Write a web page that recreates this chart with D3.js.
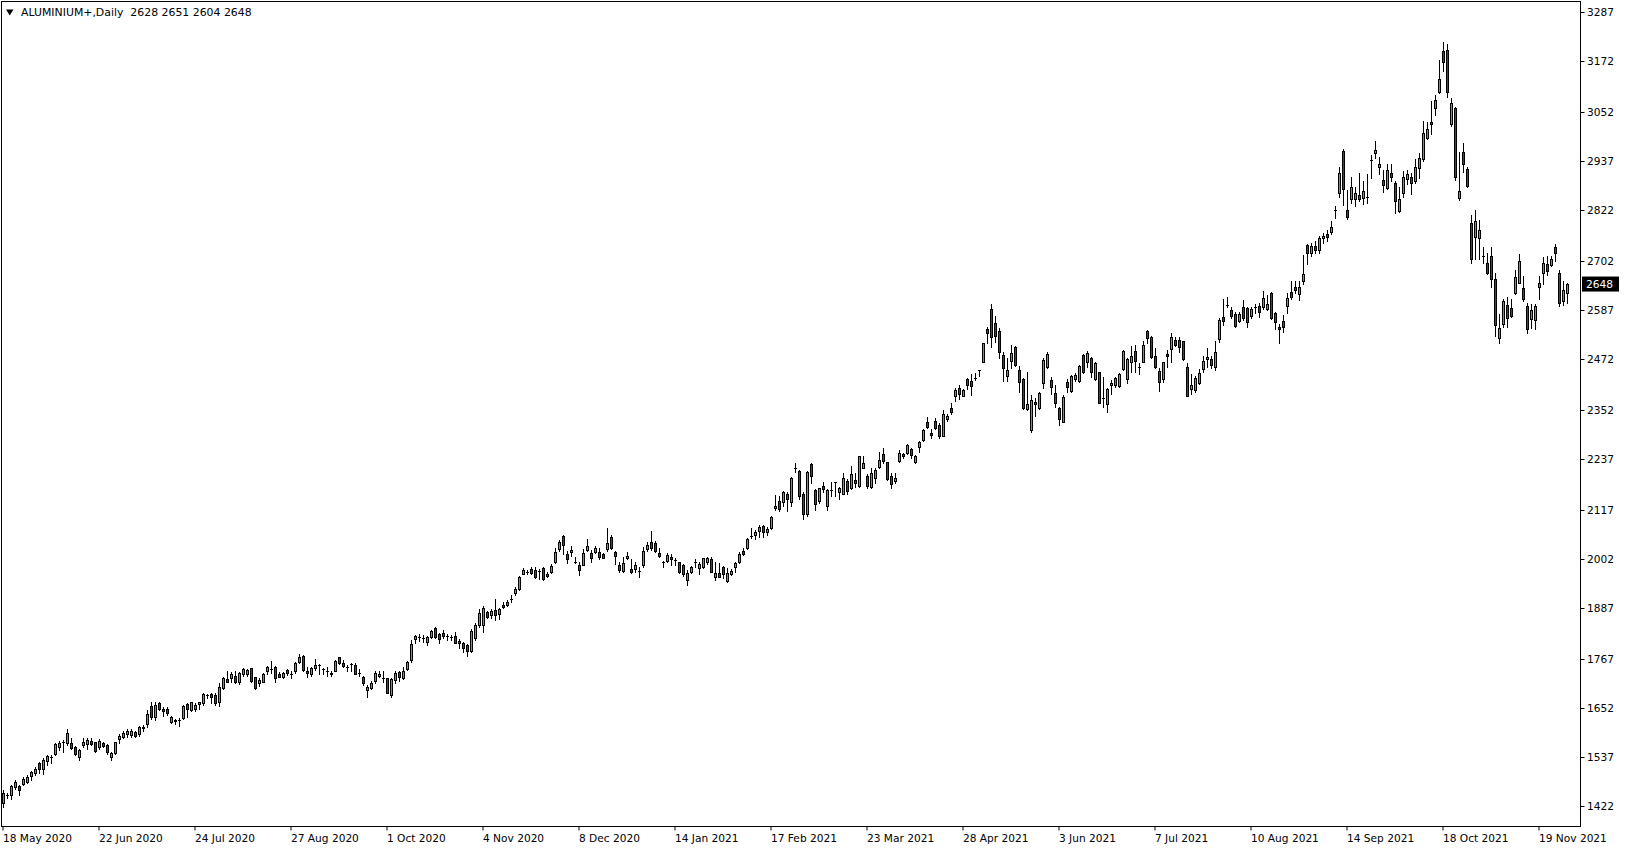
<!DOCTYPE html>
<html><head><meta charset="utf-8">
<script src="https://cdn.jsdelivr.net/npm/d3@7/dist/d3.min.js"></script>
<style>html,body{margin:0;padding:0;background:#fff;overflow:hidden}</style>
</head><body>
<script>
const symbolTitle = "ALUMINIUM+,Daily  2628 2651 2604 2648";
const lastPrice = 2648;
const yTicks = [3287,3172,3052,2937,2822,2702,2587,2472,2352,2237,2117,2002,1887,1767,1652,1537,1422];
const xTickLabels = ["18 May 2020","22 Jun 2020","24 Jul 2020","27 Aug 2020","1 Oct 2020","4 Nov 2020","8 Dec 2020","14 Jan 2021","17 Feb 2021","23 Mar 2021","28 Apr 2021","3 Jun 2021","7 Jul 2021","10 Aug 2021","14 Sep 2021","18 Oct 2021","19 Nov 2021"];
const xTickBars = [0,24,48,72,96,120,144,168,192,216,240,264,288,312,336,360,384];

const opens = [1428,1448,1449,1467,1468,1474,1478,1492,1500,1524,1510,1528,1536,1543,1560,1572,1571,1569,1561,1536,1565,1567,1574,1572,1560,1570,1565,1536,1546,1579,1583,1591,1589,1596,1590,1607,1614,1657,1632,1663,1650,1649,1619,1623,1623,1628,1661,1648,1651,1661,1663,1683,1684,1683,1666,1698,1720,1722,1727,1713,1731,1731,1745,1724,1712,1714,1740,1744,1748,1732,1724,1742,1733,1738,1761,1774,1739,1731,1745,1753,1743,1738,1731,1740,1771,1757,1748,1755,1753,1734,1724,1695,1700,1716,1727,1722,1722,1683,1718,1736,1722,1744,1765,1814,1820,1817,1808,1818,1840,1825,1829,1822,1820,1821,1810,1804,1799,1786,1816,1847,1846,1878,1871,1882,1872,1894,1894,1908,1923,1931,1968,1971,1978,1976,1975,1980,1968,1972,1994,2025,2056,2015,2018,1996,1988,1988,2023,2017,2019,2019,2013,2026,2055,2019,1988,1974,2004,1979,1979,1975,1987,2025,2041,2039,2017,1994,1998,2008,2000,1994,1988,1954,1972,1994,1980,1983,1994,2002,1961,1969,1984,1951,1966,1984,1994,2021,2029,2056,2058,2069,2080,2065,2074,2121,2139,2137,2155,2137,2217,2210,2156,2109,2225,2164,2139,2174,2127,2164,2182,2159,2156,2185,2168,2188,2174,2217,2197,2172,2192,2219,2248,2229,2196,2186,2233,2249,2250,2261,2229,2265,2282,2325,2299,2326,2317,2292,2330,2356,2384,2405,2386,2424,2420,2427,2445,2466,2542,2589,2556,2538,2481,2431,2468,2501,2446,2425,2354,2304,2370,2356,2415,2452,2423,2391,2358,2325,2417,2397,2424,2420,2481,2464,2474,2425,2441,2380,2366,2411,2412,2409,2448,2424,2466,2491,2452,2466,2538,2523,2479,2444,2424,2483,2495,2517,2517,2514,2454,2401,2398,2415,2448,2471,2472,2452,2520,2570,2599,2587,2577,2562,2593,2591,2574,2593,2597,2593,2589,2626,2579,2546,2561,2597,2629,2640,2624,2656,2740,2722,2738,2728,2755,2766,2771,2822,2861,2961,2822,2847,2847,2856,2849,2853,2939,2955,2922,2892,2873,2908,2885,2820,2861,2894,2899,2889,2921,2941,2990,3028,3061,3098,3195,3198,3025,3061,2849,2957,2918,2791,2758,2755,2714,2697,2714,2659,2521,2553,2599,2591,2626,2651,2638,2596,2567,2563,2642,2675,2695,2693,2734,2675,2609,2628];
const highs = [1460,1453,1471,1482,1471,1489,1495,1505,1513,1526,1534,1542,1542,1571,1575,1577,1604,1581,1563,1555,1581,1581,1581,1573,1579,1573,1567,1550,1573,1590,1597,1602,1604,1599,1610,1612,1648,1667,1667,1667,1655,1654,1634,1626,1628,1659,1663,1667,1663,1667,1687,1684,1687,1687,1710,1724,1739,1736,1738,1736,1747,1744,1747,1726,1722,1734,1752,1763,1752,1736,1736,1744,1738,1761,1778,1777,1748,1749,1767,1756,1747,1749,1739,1765,1773,1765,1753,1759,1757,1744,1727,1706,1716,1738,1739,1738,1723,1722,1739,1740,1749,1763,1812,1823,1826,1824,1821,1835,1842,1829,1835,1826,1824,1830,1814,1808,1803,1838,1851,1885,1892,1881,1884,1908,1888,1900,1906,1918,1937,1962,1980,1976,1984,1984,1978,1984,1971,1990,2027,2047,2059,2021,2033,2008,1994,2025,2048,2023,2033,2027,2017,2074,2059,2022,1994,2006,2019,2001,1994,1983,2030,2041,2068,2045,2027,1998,2016,2013,2004,1996,1990,1976,1986,2001,1996,2005,2008,2006,1994,1992,1986,1980,1978,1994,2018,2027,2052,2074,2070,2082,2082,2077,2103,2152,2149,2163,2160,2194,2228,2211,2160,2210,2228,2167,2170,2182,2167,2184,2184,2172,2203,2189,2221,2205,2245,2244,2201,2215,2215,2254,2262,2231,2203,2203,2258,2252,2272,2264,2247,2280,2307,2336,2307,2334,2321,2351,2342,2369,2403,2411,2401,2428,2437,2440,2445,2509,2546,2601,2573,2544,2489,2474,2506,2503,2456,2427,2441,2387,2380,2394,2474,2488,2430,2411,2360,2387,2424,2434,2440,2458,2483,2491,2476,2464,2442,2430,2405,2423,2430,2438,2493,2474,2503,2505,2463,2514,2540,2527,2497,2450,2466,2493,2532,2523,2523,2515,2462,2437,2433,2448,2478,2497,2479,2514,2568,2613,2618,2593,2583,2583,2611,2595,2595,2601,2603,2632,2622,2629,2583,2553,2575,2626,2655,2656,2654,2716,2742,2745,2750,2762,2768,2775,2795,2832,2922,2965,2869,2900,2877,2908,2890,2906,2950,2984,2946,2916,2930,2929,2889,2875,2914,2916,2908,2942,2955,3031,3028,3078,3092,3174,3217,3213,3085,3065,2959,2980,2924,2810,2822,2798,2736,2720,2734,2675,2578,2612,2617,2612,2681,2719,2667,2603,2600,2600,2667,2712,2714,2714,2742,2681,2655,2651];
const lows = [1420,1440,1438,1461,1448,1471,1475,1483,1495,1500,1497,1518,1524,1542,1554,1550,1565,1556,1542,1530,1561,1556,1565,1550,1555,1561,1544,1530,1544,1571,1581,1583,1585,1585,1587,1598,1608,1626,1624,1648,1633,1636,1616,1614,1611,1626,1632,1644,1644,1651,1659,1675,1663,1659,1658,1696,1713,1714,1712,1708,1728,1728,1714,1696,1705,1713,1732,1734,1714,1724,1722,1730,1722,1735,1759,1738,1724,1727,1741,1731,1731,1728,1728,1738,1755,1749,1740,1738,1731,1728,1706,1679,1697,1712,1724,1714,1687,1677,1712,1716,1720,1741,1761,1806,1810,1808,1799,1816,1817,1806,1816,1812,1812,1804,1794,1783,1775,1784,1812,1843,1831,1863,1863,1859,1861,1886,1892,1900,1918,1929,1966,1966,1968,1957,1955,1954,1961,1970,1992,2022,2013,1992,2010,1992,1965,1987,2021,1994,2016,2001,2004,2021,2025,1990,1972,1972,2001,1969,1971,1961,1984,2021,2023,2019,2006,1984,1996,1987,1988,1970,1963,1940,1969,1984,1966,1980,1990,1971,1954,1959,1957,1949,1965,1972,1992,2012,2026,2052,2049,2055,2055,2058,2072,2117,2116,2127,2116,2127,2207,2142,2095,2102,2180,2117,2133,2159,2117,2149,2151,2143,2154,2154,2167,2172,2172,2217,2168,2168,2180,2215,2227,2188,2168,2180,2229,2239,2248,2240,2227,2253,2279,2311,2287,2308,2287,2290,2326,2342,2374,2377,2385,2401,2387,2423,2431,2466,2510,2501,2513,2474,2421,2421,2450,2456,2395,2355,2352,2301,2337,2355,2403,2450,2389,2360,2318,2323,2395,2394,2421,2419,2438,2454,2430,2423,2368,2360,2348,2389,2407,2407,2446,2416,2442,2442,2437,2464,2509,2474,2450,2397,2419,2452,2466,2503,2489,2470,2384,2389,2395,2413,2442,2452,2450,2445,2511,2552,2593,2568,2546,2560,2564,2546,2568,2581,2570,2589,2587,2565,2542,2510,2536,2581,2612,2628,2611,2648,2694,2715,2720,2722,2745,2750,2765,2802,2852,2834,2801,2838,2832,2842,2835,2838,2898,2943,2906,2865,2871,2889,2816,2818,2853,2882,2859,2885,2896,2937,2988,3000,3044,3096,3149,3088,3020,2892,2845,2912,2875,2698,2706,2708,2697,2672,2642,2526,2509,2546,2546,2571,2625,2650,2609,2532,2544,2542,2612,2648,2669,2690,2701,2596,2599,2604];
const closes = [1452,1449,1469,1479,1460,1485,1491,1502,1510,1510,1530,1539,1537,1567,1569,1572,1593,1559,1544,1554,1572,1577,1567,1552,1574,1563,1548,1546,1572,1586,1593,1598,1598,1587,1607,1606,1638,1630,1659,1651,1644,1641,1631,1622,1623,1657,1649,1666,1659,1666,1684,1683,1679,1663,1701,1722,1714,1731,1713,1734,1744,1742,1716,1698,1718,1732,1748,1744,1722,1726,1734,1734,1733,1757,1771,1741,1734,1745,1753,1753,1743,1738,1735,1763,1757,1752,1748,1755,1732,1734,1710,1702,1712,1734,1732,1722,1688,1720,1735,1726,1739,1760,1802,1821,1820,1817,1820,1833,1820,1814,1822,1822,1820,1806,1804,1794,1786,1833,1847,1875,1886,1867,1881,1871,1885,1889,1901,1908,1932,1959,1976,1971,1970,1961,1975,1955,1963,1986,2018,2041,2035,2001,2023,1996,1976,2016,2033,2005,2029,2006,2005,2039,2029,2010,1976,1992,2010,1972,1988,1975,2021,2035,2027,2022,2010,1994,2012,2002,2000,1972,1966,1969,1983,1994,1990,2004,2005,1972,1969,1961,1966,1969,1974,1992,2015,2014,2049,2056,2065,2077,2066,2072,2100,2127,2119,2159,2142,2192,2217,2150,2108,2207,2197,2131,2168,2167,2164,2164,2182,2168,2192,2163,2202,2180,2243,2227,2174,2203,2211,2235,2233,2190,2178,2193,2250,2243,2270,2247,2244,2278,2305,2313,2293,2311,2290,2343,2339,2348,2399,2390,2398,2411,2409,2427,2445,2509,2534,2524,2527,2488,2450,2446,2485,2458,2419,2356,2366,2376,2366,2391,2470,2484,2407,2369,2330,2383,2407,2432,2434,2455,2442,2485,2442,2462,2369,2380,2402,2416,2427,2437,2491,2472,2479,2468,2452,2506,2521,2476,2452,2417,2464,2478,2523,2506,2501,2472,2386,2412,2427,2438,2468,2476,2459,2489,2564,2562,2599,2574,2550,2578,2568,2560,2589,2593,2583,2615,2601,2568,2560,2542,2548,2615,2618,2634,2640,2672,2722,2738,2728,2755,2762,2758,2781,2822,2910,2871,2806,2875,2861,2847,2867,2853,2939,2963,2930,2881,2917,2900,2842,2847,2900,2906,2885,2922,2943,3002,3012,3023,3080,3130,3170,3098,3073,2899,2867,2929,2878,2706,2796,2776,2714,2673,2661,2552,2544,2608,2569,2574,2664,2703,2614,2542,2587,2596,2650,2697,2679,2708,2720,2603,2634,2648];

const W = 1629, H = 850;
const plot = {left: 1.5, top: 1.5, right: 1580.5, bottom: 826.5};
const bullColor = "#00e600", bearColor = "#e60000";
const FONT = "DejaVu Sans";

const svg = d3.select("body").append("svg").attr("width", W).attr("height", H)
  .style("display","block").style("background","#fff");

const x = d3.scaleLinear().domain([0, opens.length - 1]).range([3.5, 3.5 + 4 * (opens.length - 1)]);
const y = d3.scaleLinear().domain([1422, 3287]).range([806, 12]);

svg.append("rect").attr("x", plot.left).attr("y", plot.top)
  .attr("width", plot.right - plot.left).attr("height", plot.bottom - plot.top)
  .attr("fill", "none").attr("stroke", "#000").attr("stroke-width", 1);

const g = svg.append("g");
const idx = d3.range(opens.length);
g.selectAll("line.wick").data(idx).join("line").attr("class","wick")
  .attr("x1", i => x(i)).attr("x2", i => x(i))
  .attr("y1", i => Math.round(y(highs[i]))).attr("y2", i => Math.round(y(lows[i])) + 0.5)
  .attr("stroke", "#000").attr("stroke-width", 1).attr("shape-rendering","crispEdges");
g.selectAll("rect.body").data(idx.filter(i => Math.abs(Math.round(y(opens[i])) - Math.round(y(closes[i]))) >= 1)).join("rect").attr("class","body")
  .attr("x", i => x(i) - 1)
  .attr("y", i => Math.round(y(Math.max(opens[i], closes[i]))) + 0.5)
  .attr("width", 2)
  .attr("height", i => Math.round(y(Math.min(opens[i], closes[i]))) - Math.round(y(Math.max(opens[i], closes[i]))))
  .attr("fill", i => closes[i] >= opens[i] ? bullColor : bearColor)
  .attr("stroke", "#000").attr("stroke-width", 1);
g.selectAll("line.doji").data(idx.filter(i => Math.abs(Math.round(y(opens[i])) - Math.round(y(closes[i]))) < 1)).join("line").attr("class","doji")
  .attr("x1", i => x(i) - 1.5).attr("x2", i => x(i) + 1.5)
  .attr("y1", i => Math.round(y(closes[i])) + 0.5).attr("y2", i => Math.round(y(closes[i])) + 0.5)
  .attr("stroke", "#000").attr("stroke-width", 1);

const ax = svg.append("g");
ax.selectAll("line.yt").data(yTicks).join("line").attr("class","yt")
  .attr("x1", plot.right).attr("x2", plot.right + 4)
  .attr("y1", d => Math.round(y(d)) + 0.5).attr("y2", d => Math.round(y(d)) + 0.5)
  .attr("stroke", "#000");
ax.selectAll("text.yl").data(yTicks).join("text").attr("class","yl")
  .attr("x", 1587).attr("y", d => y(d)).attr("dy", "0.35em")
  .attr("font-family", FONT).attr("font-size", "10.6px").attr("fill", "#000")
  .text(d => d);

const py = y(lastPrice);
svg.append("rect").attr("x", 1582).attr("y", py - 7.5).attr("width", 37).attr("height", 15).attr("fill", "#000");
svg.append("text").attr("x", 1586).attr("y", py).attr("dy", "0.35em")
  .attr("font-family", FONT).attr("font-size", "10.6px").attr("fill", "#fff").text(lastPrice);

ax.selectAll("line.xt").data(xTickBars).join("line").attr("class","xt")
  .attr("x1", d => x(d) - 0.5).attr("x2", d => x(d) - 0.5)
  .attr("y1", plot.bottom).attr("y2", plot.bottom + 4)
  .attr("stroke", "#000");
ax.selectAll("text.xl").data(xTickBars).join("text").attr("class","xl")
  .attr("x", d => x(d) - 0.5).attr("y", 838).attr("dy", "0.35em")
  .attr("font-family", FONT).attr("font-size", "10.6px").attr("fill", "#000")
  .text((d, i) => xTickLabels[i]);

svg.append("path").attr("d", "M6,9.5 L13.5,9.5 L9.75,15.5 Z").attr("fill", "#000");
svg.append("text").attr("x", 21).attr("y", 12.5).attr("dy", "0.35em")
  .attr("font-family", FONT).attr("font-size", "10.9px").attr("fill", "#000")
  .attr("xml:space", "preserve").style("white-space", "pre")
  .text(symbolTitle);
</script>
</body></html>
